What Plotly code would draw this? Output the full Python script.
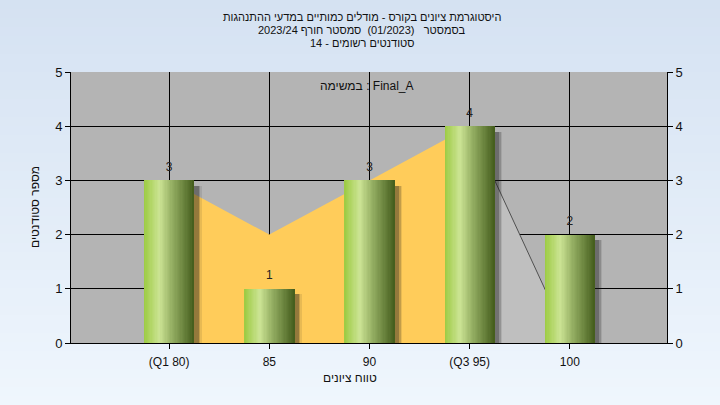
import plotly.graph_objects as go

# ---------------- data ----------------
categories = ["(Q1 80)", "85", "90", "(Q3 95)", "100"]
counts = [3, 1, 3, 4, 2]
quartile_x = ["(Q1 80)", "85", "90", "(Q3 95)"]
quartile_y = [3, 2, 3, 4]
tail_x = ["(Q3 95)", "100"]
tail_y = [4, 0]
y_ticks = [0, 1, 2, 3, 4, 5]

title_lines = [
    "היסטוגרמת ציונים בקורס - מודלים כמותיים במדעי ההתנהגות",
    "בסמסטר   (01/2023)  סמסטר חורף 2023/24",
    "סטודנטים רשומים - 14",
]
task_label = "במשימה : Final_A"
x_title = "טווח ציונים"
y_title = "מספר סטודנטים"

FONT = "Liberation Sans, Arial, DejaVu Sans, sans-serif"

# ---------------- figure ----------------
fig = go.Figure()

top_c = (213, 226, 242)
bot_c = (239, 246, 253)
n_bands = 45
PT, PB = 72, 343  # plot top / bottom in px
ph = PB - PT
def py(pix):
    return 1 + (PT - pix) / ph
shapes = []
for i in range(n_bands):
    t = i / (n_bands - 1)
    c = tuple(round(top_c[k] + (bot_c[k] - top_c[k]) * t) for k in range(3))
    y0 = 405 * i / n_bands
    y1 = 405 * (i + 1) / n_bands + 1
    shapes.append(dict(type="rect", xref="paper", yref="paper",
                       x0=-0.2, x1=1.2, y0=py(y1), y1=py(y0),
                       fillcolor="rgb(%d,%d,%d)" % c, line_width=0, layer="below"))
shapes.append(dict(type="rect", xref="paper", yref="paper", x0=0, x1=1, y0=0, y1=1,
                   fillcolor="#b4b4b4", line_width=0, layer="below"))

# areas (main subplot, under the bars)
fig.add_trace(go.Scatter(x=quartile_x, y=quartile_y, mode="lines", fill="tozeroy",
                         fillcolor="#ffcc5a", line=dict(width=0, color="#ffcc5a"),
                         hoverinfo="skip", showlegend=False))
fig.add_trace(go.Scatter(x=tail_x, y=tail_y, mode="lines", fill="tozeroy",
                         fillcolor="#bfbfbf", line=dict(width=1, color="#505050"),
                         hoverinfo="skip", showlegend=False))

# bar shadows (overlay axis y2, drawn above the areas)
BW = 0.5
for off, op in [(0.075, 0.10), (0.06, 0.18), (0.045, 0.28)]:
    fig.add_trace(go.Bar(x=categories, y=counts, base=[-0.1] * len(counts),
                         width=BW, offset=-BW / 2 + off, yaxis="y2",
                         marker=dict(color="rgba(30,30,30,%.2f)" % op, line_width=0),
                         hoverinfo="skip", showlegend=False))

# gradient bars
stops = [(0.0, (158, 204, 70)), (0.3, (204, 228, 148)), (0.55, (150, 176, 100)),
         (1.0, (70, 95, 30))]
def grad(t):
    for (a, ca), (b, cb) in zip(stops, stops[1:]):
        if a <= t <= b:
            u = (t - a) / (b - a)
            return tuple(round(ca[k] + (cb[k] - ca[k]) * u) for k in range(3))
    return stops[-1][1]
N = 40
step = BW / N
for i in range(N):
    c = grad(i / (N - 1))
    fig.add_trace(go.Bar(x=categories, y=counts, width=BW - i * step,
                         offset=-BW / 2 + i * step, yaxis="y2",
                         marker=dict(color="rgb(%d,%d,%d)" % c, line_width=0),
                         hoverinfo="skip", showlegend=False))

# value labels
fig.add_trace(go.Scatter(x=categories, y=counts, mode="markers+text",
                         text=[str(v) for v in counts],
                         marker=dict(size=9, opacity=0),
                         textposition="top center", yaxis="y2",
                         textfont=dict(family=FONT, size=12, color="#222222"),
                         hoverinfo="skip", showlegend=False))

annotations = []
for txt, ypix in zip(title_lines, [17, 30, 43]):
    annotations.append(dict(text=txt, xref="paper", yref="paper", x=(362 - 71) / 596,
                            y=py(ypix), xanchor="center", yanchor="middle", showarrow=False,
                            font=dict(family=FONT, size=11, color="#111111")))
annotations.append(dict(text=task_label, xref="paper", yref="paper", x=(367 - 71) / 596,
                        y=py(86), xanchor="center", yanchor="middle", showarrow=False,
                        font=dict(family=FONT, size=12, color="#111111")))
annotations.append(dict(text=x_title, xref="paper", yref="paper", x=(350 - 71) / 596,
                        y=py(378), xanchor="center", yanchor="middle", showarrow=False,
                        font=dict(family=FONT, size=12, color="#111111")))
annotations.append(dict(text=y_title, xref="paper", yref="paper", x=(35 - 71) / 596,
                        y=py(207), xanchor="center", yanchor="middle", showarrow=False,
                        textangle=-90, font=dict(family=FONT, size=12, color="#111111")))

fig.update_layout(
    width=720, height=405,
    margin=dict(l=71, r=53, t=72, b=62),
    paper_bgcolor="#e4eef9", plot_bgcolor="rgba(0,0,0,0)",
    barmode="overlay", bargap=0,
    showlegend=False,
    shapes=shapes, annotations=annotations,
    font=dict(family=FONT, size=12, color="#111111"),
    xaxis=dict(type="category", categoryorder="array", categoryarray=categories,
               range=[-0.98, 4.97], showgrid=True, gridcolor="#000000", gridwidth=1,
               ticks="outside", ticklen=5, tickcolor="#000000", showline=True,
               linecolor="#000000", linewidth=1, zeroline=False, ticklabelstandoff=3,
               tickfont=dict(family=FONT, size=12, color="#111111")),
    yaxis=dict(range=[0, 5], tickvals=y_ticks, showgrid=True, gridcolor="#000000",
               gridwidth=1, ticks="outside", ticklen=5, tickcolor="#000000",
               showline=True, linecolor="#000000", linewidth=1, zeroline=False,
               tickfont=dict(family=FONT, size=13, color="#111111")),
    yaxis2=dict(range=[0, 5], tickvals=y_ticks, overlaying="y", side="right",
                showgrid=False, ticks="outside", ticklen=5, tickcolor="#000000",
                showline=True, linecolor="#000000", linewidth=1, zeroline=False,
                tickfont=dict(family=FONT, size=13, color="#111111")),
)

fig.write_html("out.html", config={"displayModeBar": False},
               post_script="document.body.style.margin='0';")
